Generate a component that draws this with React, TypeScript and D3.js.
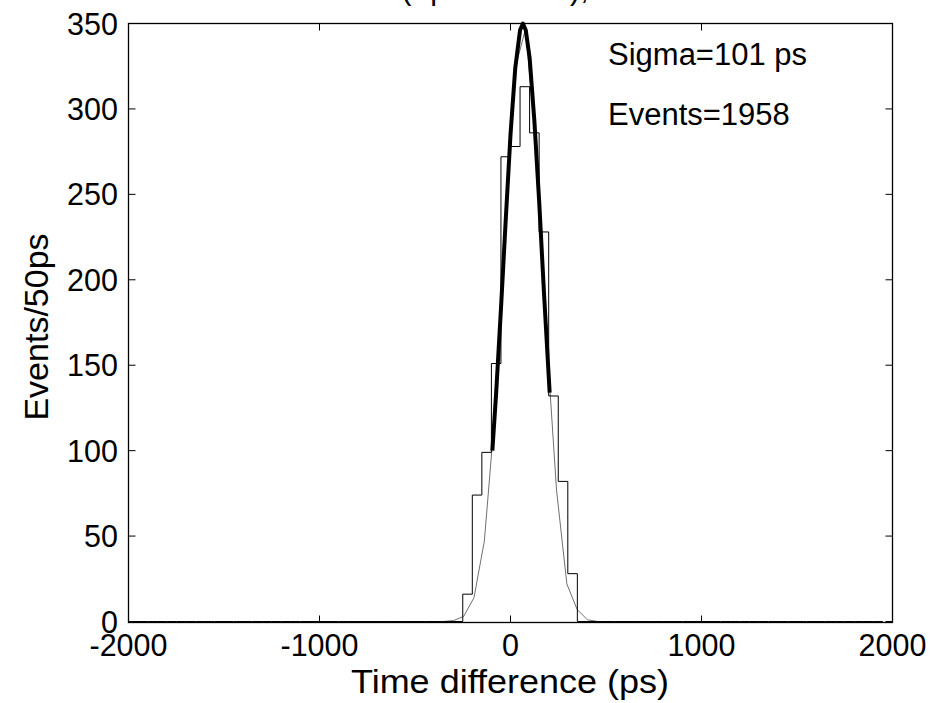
import React from "react";
import * as d3 from "d3";

// Histogram (50 ps bins): left edges of non-empty bins and their counts
const binLefts = [-250, -200, -150, -100, -50, 0, 50, 100, 150, 200, 250, 300];
const binCounts = [16, 74, 99, 151, 272, 278, 313, 286, 228, 132, 82, 28];

// Thin Gaussian curve samples (ps, events)
const thinX = [-839, -785, -731, -677, -623, -569, -515, -461, -407, -353, -299, -245, -191, -137, -83, -29, 25, 79, 133, 187, 241, 295, 349, 403, 457, 511, 565, 619, 673, 727, 781, 835, 889];
const thinY = [0, 0, 0, 0, 0, 0, 0, 0, 0, 0, 0.5, 3, 14, 47, 120, 227, 324, 347, 279, 169, 77, 22, 7, 1, 0, 0, 0, 0, 0, 0, 0, 0, 0];

// Thick fitted curve samples
const fitX = [-95, -75, -50, -25, 0, 25, 50, 65, 80, 100, 125, 150, 175, 205];
const fitY = [100, 134, 183, 235, 285, 324, 346, 350, 346, 330, 293, 246, 193, 134];

const xTicks = [-2000, -1000, 0, 1000, 2000];
const yTicks = [0, 50, 100, 150, 200, 250, 300, 350];

const FONT = "Liberation Sans, Arial, Helvetica, sans-serif";

export default function App() {
  const W = 933, H = 703;
  const L = 128.5, R = 892.5, T = 23.5, B = 622.5;
  const x = d3.scaleLinear().domain([-2000, 2000]).range([L, R]);
  const y = d3.scaleLinear().domain([0, 350]).range([B - 1, T]);

  // build stairs from -2000 to 1950
  const pts: [number, number][] = [[x(-2000), y(0)]];
  const countMap = new Map(binLefts.map((b, i) => [b, binCounts[i]]));
  for (let e = -2000; e < 1950; e += 50) {
    const c = countMap.get(e) ?? 0;
    pts.push([x(e), y(c)]);
    pts.push([x(e + 50), y(c)]);
  }
  pts.push([x(1950), y(0)]);
  const line = d3.line<[number, number]>();
  const histPath = line(pts) || "";

  const thinPath = d3.line<number>().x((d) => x(d)).y((_, i) => y(thinY[i]))(thinX) || "";
  const fitPath = d3.line<number>().x((d) => x(d)).y((_, i) => y(fitY[i]))(fitX) || "";

  const tickLen = 7;
  const fs = 30.5;

  return (
    <svg width={W} height={H} style={{ position: "absolute", left: 0, top: 0, background: "#fff" }} fontFamily={FONT}>
      <rect x={0} y={0} width={W} height={H} fill="#fff" />
      {/* partially visible title */}
      <text x={495} y={-1} textAnchor="middle" fontSize={fs}>(Tp=500 mV),</text>
      <path d={thinPath} fill="none" stroke="#707070" strokeWidth={1} />
      <path d={histPath} fill="none" stroke="#000" strokeWidth={1} />
      <path d={fitPath} fill="none" stroke="#000" strokeWidth={4} strokeLinejoin="round" />
      {/* axes box */}
      <rect x={L} y={T} width={R - L} height={B - T} fill="none" stroke="#000" strokeWidth={1.3} />
      {xTicks.map((t) => (
        <g key={"x" + t}>
          <line x1={x(t)} x2={x(t)} y1={B} y2={B - tickLen} stroke="#000" strokeWidth={1} />
          <line x1={x(t)} x2={x(t)} y1={T} y2={T + tickLen} stroke="#000" strokeWidth={1} />
          <text x={x(t)} y={656} textAnchor="middle" fontSize={fs}>{t}</text>
        </g>
      ))}
      {yTicks.map((t) => (
        <g key={"y" + t}>
          <line x1={L} x2={L + tickLen} y1={y(t)} y2={y(t)} stroke="#000" strokeWidth={1} />
          <line x1={R} x2={R - tickLen} y1={y(t)} y2={y(t)} stroke="#000" strokeWidth={1} />
          <text x={118} y={y(t) + 11} textAnchor="end" fontSize={fs}>{t}</text>
        </g>
      ))}
      <text x={510} y={693} textAnchor="middle" fontSize={33} textLength={318} lengthAdjust="spacingAndGlyphs">Time difference (ps)</text>
      <text transform={`translate(48,327) rotate(-90)`} textAnchor="middle" fontSize={34}>Events/50ps</text>
      <text x={608} y={65} fontSize={31}>Sigma=101 ps</text>
      <text x={608} y={125} fontSize={31}>Events=1958</text>
    </svg>
  );
}
